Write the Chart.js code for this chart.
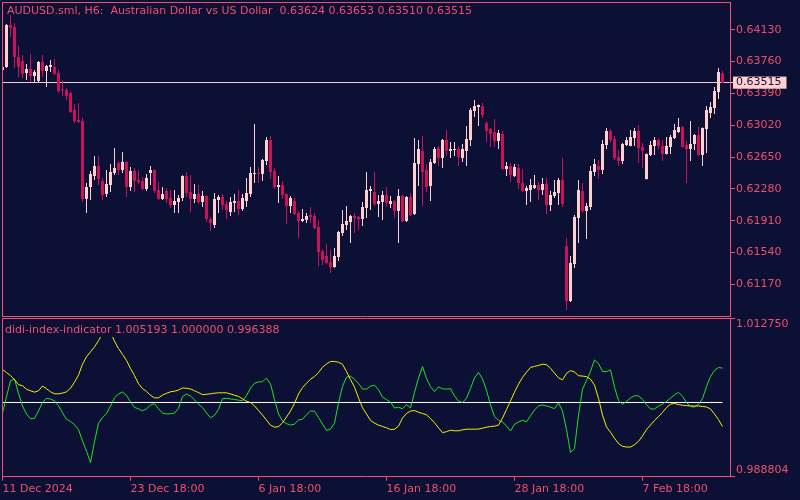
<!DOCTYPE html>
<html>
<head>
<meta charset="utf-8">
<title>AUDUSD H6</title>
<script src="https://cdn.jsdelivr.net/npm/chart.js@4.4.1/dist/chart.umd.min.js"></script>
<style>
    html, body { margin: 0; padding: 0; background: #0d1035; overflow: hidden; }
    #wrap { position: relative; width: 800px; height: 500px; }
    #priceBox { position: absolute; left: 0; top: 0; width: 800px; height: 318px; }
    #indBox { position: absolute; left: 0; top: 318px; width: 800px; height: 182px; }
</style>
</head>
<body>
<div id="wrap">
    <div id="priceBox"><canvas id="priceChart"></canvas></div>
    <div id="indBox"><canvas id="indChart"></canvas></div>
</div>
<script>
// AUDUSD.sml H6 candles, one entry per bar (oldest first)
const opens = [
    0.63662, 0.63697, 0.64185, 0.64162, 0.63813, 0.63766, 0.63627, 0.63673, 0.63592, 0.63534,
    0.63755, 0.63650, 0.63697, 0.63697, 0.63627, 0.63440, 0.63429, 0.63394, 0.63197, 0.63081,
    0.63069, 0.62163, 0.62302, 0.62430, 0.62546, 0.62372, 0.62221, 0.62325, 0.62465, 0.62581,
    0.62500, 0.62593, 0.62302, 0.62488, 0.62383, 0.62372, 0.62279, 0.62465, 0.62500, 0.62267,
    0.62163, 0.62256, 0.62174, 0.62093, 0.62128, 0.62174, 0.62430, 0.62244, 0.62163, 0.62221,
    0.62128, 0.62198, 0.61930, 0.61861, 0.62151, 0.62186, 0.62104, 0.62011, 0.62116, 0.62139,
    0.62046, 0.62139, 0.62221, 0.62454, 0.62465, 0.62454, 0.62604, 0.62848, 0.62488, 0.62302,
    0.62325, 0.62221, 0.62081, 0.62139, 0.62000, 0.61907, 0.61919, 0.61977, 0.61965, 0.61837,
    0.61558, 0.61500, 0.61430, 0.61372, 0.61489, 0.61767, 0.61861, 0.61895, 0.61965, 0.61954,
    0.61930, 0.62058, 0.62256, 0.62244, 0.62104, 0.62128, 0.62209, 0.62104, 0.62139, 0.62023,
    0.62198, 0.61907, 0.62186, 0.61988, 0.62570, 0.62721, 0.62500, 0.62314, 0.62581, 0.62755,
    0.62639, 0.62848, 0.62721, 0.62732, 0.62744, 0.62639, 0.62721, 0.62848, 0.63185, 0.63232,
    0.63243, 0.63046, 0.62976, 0.62941, 0.62837, 0.62918, 0.62511, 0.62546, 0.62430, 0.62523,
    0.62348, 0.62256, 0.62267, 0.62290, 0.62325, 0.62267, 0.62337, 0.62093, 0.62198, 0.62232,
    0.62383, 0.61616, 0.60977, 0.61407, 0.61942, 0.62256, 0.62023, 0.62070, 0.62477, 0.62546,
    0.62500, 0.62790, 0.62953, 0.62860, 0.62651, 0.62604, 0.62790, 0.62779, 0.62871, 0.62953,
    0.62767, 0.62395, 0.62674, 0.62779, 0.62848, 0.62779, 0.62686, 0.62767, 0.62871, 0.62941,
    0.62999, 0.62790, 0.62744, 0.62802, 0.62906, 0.62674, 0.62976, 0.63162, 0.63220, 0.63406,
    0.63624
];
const highs = [
    0.63708, 0.64197, 0.64301, 0.64208, 0.63940, 0.63836, 0.63731, 0.63848, 0.63662, 0.63766,
    0.63836, 0.63720, 0.63778, 0.63789, 0.63662, 0.63545, 0.63452, 0.63406, 0.63267, 0.63278,
    0.63104, 0.62348, 0.62488, 0.62662, 0.62662, 0.62407, 0.62500, 0.62570, 0.62755, 0.62604,
    0.62709, 0.62600, 0.62535, 0.62523, 0.62500, 0.62418, 0.62454, 0.62546, 0.62505, 0.62360,
    0.62302, 0.62290, 0.62267, 0.62267, 0.62209, 0.62440, 0.62477, 0.62442, 0.62337, 0.62325,
    0.62256, 0.62205, 0.61954, 0.62232, 0.62209, 0.62221, 0.62139, 0.62186, 0.62221, 0.62267,
    0.62221, 0.62407, 0.62535, 0.63034, 0.62535, 0.62628, 0.62883, 0.62895, 0.62523, 0.62430,
    0.62372, 0.62225, 0.62198, 0.62174, 0.62023, 0.62046, 0.62000, 0.62070, 0.62000, 0.61919,
    0.61582, 0.61640, 0.61570, 0.61593, 0.61791, 0.62035, 0.62081, 0.61977, 0.62000, 0.61965,
    0.62128, 0.62477, 0.62314, 0.62477, 0.62209, 0.62256, 0.62302, 0.62198, 0.62151, 0.62279,
    0.62209, 0.62198, 0.62232, 0.62871, 0.62848, 0.62895, 0.62570, 0.62628, 0.62767, 0.62779,
    0.62860, 0.62964, 0.62825, 0.62825, 0.62779, 0.62802, 0.63011, 0.63220, 0.63313, 0.63260,
    0.63278, 0.63069, 0.62988, 0.63092, 0.62964, 0.62953, 0.62593, 0.62581, 0.62570, 0.62570,
    0.62511, 0.62314, 0.62395, 0.62442, 0.62360, 0.62407, 0.62407, 0.62256, 0.62383, 0.62407,
    0.62639, 0.61709, 0.61500, 0.61977, 0.62383, 0.62348, 0.62116, 0.62546, 0.62628, 0.62616,
    0.62848, 0.62988, 0.62976, 0.62895, 0.62732, 0.62813, 0.62883, 0.62964, 0.62988, 0.63023,
    0.62813, 0.62690, 0.62837, 0.62883, 0.62871, 0.62848, 0.62883, 0.62906, 0.63034, 0.63104,
    0.63011, 0.62837, 0.63069, 0.62918, 0.62999, 0.62995, 0.63243, 0.63290, 0.63464, 0.63685,
    0.63653
];
const lows = [
    0.63650, 0.63685, 0.64045, 0.63685, 0.63581, 0.63569, 0.63545, 0.63522, 0.63522, 0.63522,
    0.63581, 0.63464, 0.63639, 0.63604, 0.63394, 0.63359, 0.63313, 0.63162, 0.63046, 0.63046,
    0.62128, 0.62000, 0.62151, 0.62383, 0.62325, 0.62151, 0.62186, 0.62244, 0.62442, 0.62442,
    0.62465, 0.62186, 0.62256, 0.62244, 0.62337, 0.62267, 0.62256, 0.62325, 0.62232, 0.62151,
    0.62151, 0.62116, 0.62058, 0.62000, 0.62000, 0.62139, 0.62186, 0.62011, 0.62116, 0.62104,
    0.62070, 0.61895, 0.61791, 0.61826, 0.62000, 0.62035, 0.61930, 0.61965, 0.62011, 0.61977,
    0.62023, 0.62070, 0.62186, 0.62348, 0.62348, 0.62372, 0.62558, 0.62395, 0.62279, 0.62116,
    0.62163, 0.61872, 0.62000, 0.61977, 0.61709, 0.61895, 0.61884, 0.61884, 0.61814, 0.61384,
    0.61396, 0.61407, 0.61303, 0.61365, 0.61442, 0.61733, 0.61802, 0.61651, 0.61767, 0.61802,
    0.61849, 0.61942, 0.62035, 0.62081, 0.61954, 0.61919, 0.62070, 0.62058, 0.61942, 0.61651,
    0.61895, 0.61895, 0.61965, 0.61977, 0.62314, 0.62081, 0.62244, 0.62139, 0.62570, 0.62546,
    0.62523, 0.62662, 0.62639, 0.62662, 0.62546, 0.62593, 0.62546, 0.62779, 0.63115, 0.63011,
    0.63104, 0.62825, 0.62767, 0.62767, 0.62744, 0.62505, 0.62430, 0.62360, 0.62418, 0.62279,
    0.62244, 0.62093, 0.62128, 0.62279, 0.62151, 0.62209, 0.61988, 0.62023, 0.62174, 0.62093,
    0.62070, 0.60873, 0.60966, 0.61361, 0.61651, 0.62000, 0.61698, 0.62035, 0.62430, 0.62395,
    0.62454, 0.62744, 0.62825, 0.62616, 0.62546, 0.62570, 0.62779, 0.62775, 0.62779, 0.62581,
    0.62523, 0.62390, 0.62662, 0.62674, 0.62744, 0.62604, 0.62680, 0.62686, 0.62860, 0.62930,
    0.62760, 0.62348, 0.62604, 0.62732, 0.62662, 0.62546, 0.62697, 0.63104, 0.63151, 0.63325,
    0.63510
];
const closes = [
    0.63697, 0.64185, 0.64150, 0.63813, 0.63697, 0.63616, 0.63673, 0.63592, 0.63639, 0.63755,
    0.63650, 0.63708, 0.63720, 0.63616, 0.63417, 0.63429, 0.63359, 0.63174, 0.63069, 0.63058,
    0.62163, 0.62302, 0.62454, 0.62546, 0.62395, 0.62209, 0.62337, 0.62477, 0.62523, 0.62500,
    0.62593, 0.62302, 0.62488, 0.62372, 0.62360, 0.62279, 0.62407, 0.62500, 0.62256, 0.62163,
    0.62221, 0.62163, 0.62093, 0.62139, 0.62174, 0.62430, 0.62232, 0.62163, 0.62221, 0.62128,
    0.62198, 0.61930, 0.61884, 0.62163, 0.62186, 0.62093, 0.62035, 0.62128, 0.62139, 0.62046,
    0.62174, 0.62232, 0.62465, 0.62465, 0.62454, 0.62616, 0.62848, 0.62477, 0.62302, 0.62325,
    0.62209, 0.62081, 0.62174, 0.61988, 0.61907, 0.61930, 0.61965, 0.61954, 0.61826, 0.61547,
    0.61454, 0.61419, 0.61372, 0.61500, 0.61779, 0.61872, 0.61907, 0.61965, 0.61942, 0.61930,
    0.62070, 0.62267, 0.62279, 0.62104, 0.62139, 0.62209, 0.62116, 0.62139, 0.62023, 0.62198,
    0.61907, 0.62186, 0.61977, 0.62581, 0.62744, 0.62477, 0.62302, 0.62593, 0.62744, 0.62639,
    0.62848, 0.62721, 0.62744, 0.62744, 0.62651, 0.62744, 0.62860, 0.63197, 0.63243, 0.63255,
    0.63139, 0.62953, 0.62918, 0.62837, 0.62930, 0.62511, 0.62546, 0.62442, 0.62535, 0.62348,
    0.62256, 0.62290, 0.62325, 0.62325, 0.62267, 0.62337, 0.62093, 0.62209, 0.62244, 0.62383,
    0.62104, 0.60977, 0.61419, 0.61954, 0.62267, 0.62023, 0.62081, 0.62488, 0.62570, 0.62500,
    0.62802, 0.62953, 0.62848, 0.62639, 0.62604, 0.62802, 0.62848, 0.62883, 0.62953, 0.62755,
    0.62721, 0.62686, 0.62790, 0.62848, 0.62779, 0.62686, 0.62779, 0.62883, 0.62964, 0.62999,
    0.62767, 0.62744, 0.62802, 0.62906, 0.62674, 0.62988, 0.63197, 0.63232, 0.63417, 0.63639,
    0.63515
];

// didi-index-indicator buffers
const greenLine = [
    0.998414, 1.000854, 1.003294, 1.003523, 1.001373, 0.999481, 0.998261, 0.997575, 0.997605, 0.998719,
    1.000015, 1.000625, 1.000519, 1.000244, 0.999527, 0.998444, 0.997468, 0.997133, 0.996660, 0.995912,
    0.994204, 0.992649, 0.990940, 0.994067, 0.996889, 0.997727, 0.998338, 0.999481, 1.000702, 1.001281,
    1.001586, 1.001083, 1.000092, 0.999268, 0.999039, 0.998749, 0.999054, 0.999634, 0.999802, 0.999054,
    0.998399, 0.998277, 0.998307, 0.998399, 0.999115, 1.000900, 1.001266, 1.000991, 1.000412, 0.999725,
    0.999237, 0.998414, 0.997697, 0.998063, 0.998963, 1.000580, 1.000625, 1.000534, 1.000458, 1.000351,
    1.000259, 1.001037, 1.002166, 1.002898, 1.003096, 1.003142, 1.003676, 1.002791, 1.000473, 0.998277,
    0.997178, 0.996812, 0.996599, 0.996721, 0.997361, 0.997483, 0.998139, 0.998719, 0.998673, 0.997743,
    0.996767, 0.995790, 0.995989, 0.996889, 0.999954, 1.002425, 1.003828, 1.003981, 1.003523, 1.002883,
    1.002029, 1.002029, 1.002456, 1.002608, 1.001922, 1.000808, 1.000442, 1.000076, 0.999176, 0.999283,
    0.999054, 0.999695, 0.999176, 1.001525, 1.003691, 1.005430, 1.003645, 1.002379, 1.001662, 1.002349,
    1.002074, 1.002013, 1.002090, 1.000991, 1.000214, 1.000015, 1.000641, 1.002120, 1.003706, 1.004545,
    1.003569, 1.001845, 0.999634, 0.997880, 0.997316, 0.997041, 0.996477, 0.995699, 0.996721, 0.997072,
    0.997316, 0.997087, 0.998002, 0.998856, 0.999497, 0.999619, 0.999481, 0.999298, 0.999070, 0.999939,
    0.998719, 0.995897, 0.992466, 0.993076, 0.998109, 1.001998, 1.003340, 1.004698, 1.006421, 1.005872,
    1.004667, 1.004667, 1.004926, 1.002318, 1.000320, 0.999710, 1.000168, 1.000702, 1.001007, 1.001007,
    1.000473, 0.999664, 0.999024, 0.999024, 0.999451, 0.999786, 1.000153, 1.000656, 1.001159, 1.001540,
    1.000930, 1.000000, 0.999405, 0.999314, 0.999741, 1.000580, 1.002410, 1.003905, 1.004850, 1.005277,
    1.005193
];
const yellowLine = [
    1.004972, 1.004515, 1.004057, 1.003447, 1.002684, 1.002532, 1.001998, 1.001769, 1.001556, 1.001769,
    1.002486, 1.002074, 1.001617, 1.001312, 1.001312, 1.001418, 1.001617, 1.002151, 1.003066, 1.004133,
    1.005781, 1.006894, 1.007641, 1.008389, 1.009334, 1.010463, 1.012446, 1.010615, 1.009243, 1.008129,
    1.007260, 1.006345, 1.005125, 1.004057, 1.002837, 1.002105, 1.001678, 1.001083, 1.000702, 1.000702,
    1.001113, 1.001388, 1.001617, 1.001708, 1.001876, 1.002196, 1.002151, 1.002044, 1.001769, 1.001495,
    1.001190, 1.001235, 1.001312, 1.001403, 1.001464, 1.001464, 1.001464, 1.001281, 1.001098, 1.000915,
    1.000549, 1.000183, 1.000000, 0.999481, 0.998795, 0.998109, 0.997346, 0.996584, 0.996279, 0.996355,
    0.996934, 0.997804, 0.998719, 0.999878, 1.001281, 1.002257, 1.002913, 1.003508, 1.003935, 1.004515,
    1.005323, 1.005811, 1.006192, 1.006192, 1.006070, 1.005765, 1.004667, 1.003447, 1.002318, 1.000702,
    0.999207, 0.998261, 0.997300, 0.996889, 0.996584, 0.996385, 0.996187, 0.995912, 0.995973, 0.996431,
    0.997651, 0.998338, 0.998719, 0.998780, 0.998536, 0.998338, 0.998139, 0.997575, 0.996950, 0.996187,
    0.995455, 0.995592, 0.995821, 0.995729, 0.995729, 0.995882, 0.995973, 0.995973, 0.995973, 0.995989,
    0.996126, 0.996279, 0.996370, 0.996431, 0.996584, 0.997651, 0.998948, 1.000244, 1.001556, 1.002761,
    1.003783, 1.004576, 1.005292, 1.005445, 1.005597, 1.005781, 1.005689, 1.005170, 1.004438, 1.003721,
    1.003416, 1.004393, 1.004820, 1.004591, 1.004057, 1.003981, 1.003905, 1.003523, 1.002608, 1.000625,
    0.998109, 0.996294, 0.995516, 0.994601, 0.993808, 0.993381, 0.993289, 0.993274, 0.993625, 0.994143,
    0.994952, 0.995912, 0.996599, 0.997270, 0.997880, 0.998505, 0.999237, 0.999756, 0.999847, 0.999695,
    0.999588, 0.999527, 0.999481, 0.999481, 0.999481, 0.999405, 0.999329, 0.999024, 0.998261, 0.997422,
    0.996388
];
const levelValue = 1.0;

// axis ticks
const priceTicks = [0.61170, 0.61540, 0.61910, 0.62280, 0.62650, 0.63020, 0.63390, 0.63760, 0.64130];
const indTicks = [1.012750, 0.988804];
const dateTickIdx = [0, 32, 64, 96, 128, 160];
const dateTickLabels = ['11 Dec 2024', '23 Dec 18:00', '6 Jan 18:00', '16 Jan 18:00', '28 Jan 18:00', '7 Feb 18:00'];

// --- styling ---
const colors = {
    axis: '#ee4f6e',
    bull: '#ffd0d0',
    bear: '#c8125a',
    priceLine: '#f7c9c4',
    green: '#1fe31f',
    yellow: '#f2f000',
    level: '#ffffff',
    dark: '#0d1035'
};
const FONT = 'DejaVu Sans';
const X_MIN = -0.125, X_MAX = 181.875;
const PRICE_MIN = 0.60803, PRICE_MAX = 0.64452;

Chart.defaults.font.family = FONT;
Chart.defaults.font.size = 11;

const last = closes.length - 1;
const lastClose = closes[last];

const bodyData = opens.map((o, i) => ({ x: i, y: [o, closes[i]] }));
const wickData = opens.map((o, i) => ({ x: i, y: [lows[i], highs[i]] }));
const candleColors = opens.map((o, i) => closes[i] >= o ? colors.bull : colors.bear);

// Helper: lock axis size and drop the label overflow padding
function lockAxis(size, horizontal) {
    return function (scale) {
        if (horizontal) scale.height = size; else scale.width = size;
        scale.paddingTop = 0;
        scale.paddingBottom = 0;
        scale.paddingLeft = 0;
        scale.paddingRight = 0;
    };
}

// Frame + caption drawn around the plot area
const framePlugin = {
    id: 'frame',
    afterDraw(chart, args, opts) {
        const { ctx, chartArea: a } = chart;
        ctx.save();
        ctx.font = '11px "' + FONT + '"';
        ctx.textBaseline = 'middle';
        if (opts.box) {
            // the caption hides whatever line runs underneath it
            const w = ctx.measureText(opts.text).width;
            ctx.fillStyle = colors.dark;
            ctx.fillRect(a.left + 1, a.top + 1, opts.tx + w + 2 - a.left, opts.ty + 6 - a.top);
        }
        ctx.strokeStyle = colors.axis;
        ctx.lineWidth = 1;
        ctx.beginPath();
        ctx.moveTo(a.left + 0.5, Math.round(a.bottom));
        ctx.lineTo(a.left + 0.5, a.top + 0.5);
        ctx.lineTo(a.right, a.top + 0.5);
        if (opts.bottom) {
            ctx.moveTo(a.left, a.bottom + 0.5);
            ctx.lineTo(a.right + 1, a.bottom + 0.5);
        }
        ctx.stroke();
        ctx.fillStyle = colors.axis;
        ctx.fillText(opts.text, opts.tx, opts.ty);
        ctx.restore();
    }
};

const priceCaption = 'AUDUSD.sml, H6:  Australian Dollar vs US Dollar  ' +
    [opens[last], highs[last], lows[last], closes[last]].map(v => v.toFixed(5)).join(' ');

new Chart(document.getElementById('priceChart'), {
    type: 'bar',
    data: {
        datasets: [
            {
                label: 'wick',
                data: wickData,
                backgroundColor: candleColors,
                grouped: false,
                barPercentage: 1,
                categoryPercentage: 1,
                maxBarThickness: 1,
                inflateAmount: 0,
                borderWidth: 0
            },
            {
                label: 'body',
                data: bodyData,
                backgroundColor: candleColors,
                grouped: false,
                barPercentage: 1,
                categoryPercentage: 1,
                maxBarThickness: 3,
                minBarLength: 1,
                inflateAmount: 0,
                borderWidth: 0
            }
        ]
    },
    options: {
        responsive: true,
        maintainAspectRatio: false,
        animation: false,
        events: [],
        layout: { padding: { left: 2, top: 2, right: 0, bottom: 2 } },
        plugins: {
            legend: { display: false },
            tooltip: { enabled: false },
            frame: { bottom: true, box: false, text: priceCaption, tx: 7, ty: 11 }
        },
        scales: {
            x: {
                type: 'linear',
                display: false,
                min: X_MIN,
                max: X_MAX,
                offset: false,
                grid: { offset: false }
            },
            y: {
                position: 'right',
                min: PRICE_MIN,
                max: PRICE_MAX,
                afterBuildTicks: scale => {
                    scale.ticks = priceTicks.concat([lastClose]).map(v => ({ value: v }));
                },
                afterFit: lockAxis(70, false),
                border: { color: colors.axis, width: 1 },
                grid: {
                    drawOnChartArea: true,
                    tickLength: 5,
                    color: c => c.tick && c.tick.value === lastClose ? colors.priceLine : 'rgba(0,0,0,0)',
                    tickColor: c => c.tick && c.tick.value === lastClose ? colors.bull : colors.axis
                },
                ticks: {
                    autoSkip: false,
                    padding: 1,
                    font: { size: 11, lineHeight: 1.1 },
                    color: c => c.tick && c.tick.value === lastClose ? colors.dark : colors.axis,
                    showLabelBackdrop: c => !!(c.tick && c.tick.value === lastClose),
                    backdropColor: colors.bull,
                    backdropPadding: { left: 3, right: 5, top: 0, bottom: 0 },
                    callback: v => v.toFixed(5)
                }
            }
        }
    },
    plugins: [framePlugin]
});

const indCaption = 'didi-index-indicator ' +
    [greenLine[last], levelValue, yellowLine[last]].map(v => v.toFixed(6)).join(' ');

new Chart(document.getElementById('indChart'), {
    type: 'line',
    data: {
        datasets: [
            {
                label: 'yellow',
                data: yellowLine.map((v, i) => ({ x: i, y: v })),
                borderColor: colors.yellow,
                borderWidth: 1,
                pointRadius: 0,
                tension: 0
            },
            {
                label: 'green',
                data: greenLine.map((v, i) => ({ x: i, y: v })),
                borderColor: colors.green,
                borderWidth: 1,
                pointRadius: 0,
                tension: 0
            },
            {
                label: 'level',
                data: [{ x: 0, y: levelValue }, { x: last, y: levelValue }],
                borderColor: colors.level,
                borderWidth: 1,
                pointRadius: 0
            }
        ]
    },
    options: {
        responsive: true,
        maintainAspectRatio: false,
        animation: false,
        events: [],
        layout: { padding: { left: 2, top: 0, right: 0, bottom: 0 } },
        plugins: {
            legend: { display: false },
            tooltip: { enabled: false },
            frame: { bottom: false, box: true, text: indCaption, tx: 5, ty: 12 }
        },
        scales: {
            x: {
                type: 'linear',
                min: X_MIN,
                max: X_MAX,
                afterBuildTicks: scale => {
                    scale.ticks = dateTickIdx.map(v => ({ value: v }));
                },
                // 23.3 keeps the 1.0 level on a whole pixel row
                afterFit: lockAxis(23.3, true),
                border: { color: colors.axis, width: 1 },
                grid: { drawOnChartArea: false, tickLength: 4, tickColor: colors.axis },
                ticks: {
                    autoSkip: false,
                    maxRotation: 0,
                    align: 'start',
                    padding: 2,
                    color: colors.axis,
                    callback: (v, idx) => dateTickLabels[idx]
                }
            },
            y: {
                position: 'right',
                min: indTicks[1],
                max: indTicks[0],
                afterBuildTicks: scale => {
                    scale.ticks = indTicks.map(v => ({ value: v }));
                },
                afterFit: lockAxis(70, false),
                border: { color: colors.axis, width: 1 },
                grid: { drawOnChartArea: false, tickLength: 5, tickColor: colors.axis },
                ticks: {
                    autoSkip: false,
                    padding: 1,
                    color: colors.axis,
                    font: { size: 11, lineHeight: 1.2 },
                    // top label sits under its tick, bottom label above it
                    callback: v => v === indTicks[0] ? ['', v.toFixed(6)] : [v.toFixed(6), '']
                }
            }
        }
    },
    plugins: [framePlugin]
});
</script>
</body>
</html>
